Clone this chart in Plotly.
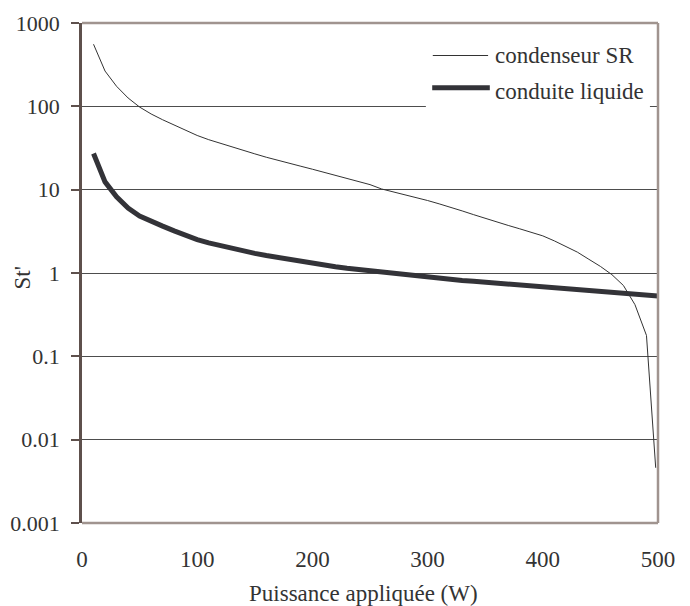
import plotly.graph_objects as go

# Data
power_sr = [10, 20, 30, 40, 50, 60, 70, 80, 90, 100, 110, 120, 130, 140, 150, 160, 170, 180, 190, 200,
            210, 220, 230, 240, 250, 260, 270, 280, 290, 300, 310, 320, 330, 340, 350, 360, 370, 380, 390, 400,
            410, 420, 430, 440, 450, 460, 470, 480, 490, 498]
condenseur_sr = [556, 265, 174, 126, 98, 81, 69, 59.6, 51.9, 44.7, 39.8, 35.9, 32.4, 29.5, 26.9, 24.5, 22.4, 20.7, 19.1, 17.6,
                 16.2, 15.0, 13.8, 12.6, 11.5, 10.2, 9.44, 8.71, 8.04, 7.41, 6.76, 6.17, 5.56, 5.01, 4.57, 4.12, 3.72, 3.39, 3.09, 2.79,
                 2.43, 2.09, 1.78, 1.46, 1.20, 0.955, 0.708, 0.417, 0.178, 0.0046]

power_cl = [10, 20, 30, 40, 50, 60, 70, 80, 90, 100, 110, 120, 130, 140, 150, 160, 170, 180, 190, 200,
            210, 220, 230, 240, 250, 260, 270, 280, 290, 300, 310, 320, 330, 340, 350, 360, 370, 380, 390, 400,
            410, 420, 430, 440, 450, 460, 470, 480, 490, 500]
conduite_liquide = [27.2, 12.4, 8.2, 6.0, 4.83, 4.15, 3.65, 3.2, 2.82, 2.52, 2.3, 2.12, 1.96, 1.83, 1.72, 1.62, 1.53, 1.45, 1.37, 1.30,
                    1.245, 1.19, 1.14, 1.10, 1.06, 1.02, 0.985, 0.95, 0.92, 0.89, 0.865, 0.84, 0.815, 0.795, 0.775, 0.755, 0.735, 0.715, 0.70, 0.68,
                    0.665, 0.65, 0.635, 0.62, 0.605, 0.59, 0.575, 0.56, 0.545, 0.53]

x_ticks = [0, 100, 200, 300, 400, 500]
y_ticks = [0.001, 0.01, 0.1, 1, 10, 100, 1000]
y_ticktext = ["0.001", "0.01", "0.1", "1", "10", "100", "1000"]

series_names = ["condenseur SR", "conduite liquide"]

FONT = "Liberation Serif"
FS = 23
TXT = "#333333"

fig = go.Figure()
fig.add_trace(go.Scatter(x=power_sr, y=condenseur_sr, mode="lines", name=series_names[0],
                         line=dict(color="#333333", width=1), showlegend=False))
fig.add_trace(go.Scatter(x=power_cl, y=conduite_liquide, mode="lines", name=series_names[1],
                         line=dict(color="#333338", width=5), showlegend=False))

fig.update_layout(
    template="none",
    width=682, height=598,
    margin=dict(l=74, r=32, t=15, b=83, autoexpand=False),
    paper_bgcolor="white", plot_bgcolor="white",
    font=dict(family=FONT, size=FS, color=TXT),
    xaxis=dict(range=[0, 500], tickvals=x_ticks, ticktext=[str(v) for v in x_ticks], automargin=False,
               showgrid=False, zeroline=False, showline=False, ticks="outside", ticklen=0,
               ticklabelstandoff=15, tickfont=dict(family=FONT, size=FS, color=TXT)),
    xaxis2=dict(range=[0, 500], overlaying="x", anchor="free", position=0.5, side="bottom", automargin=False,
                tickvals=x_ticks, showticklabels=False, showgrid=False, zeroline=False,
                showline=True, linecolor="#8f8f8f", linewidth=2,
                ticks="outside", ticklen=7, tickcolor="#8f8f8f", tickwidth=2),
    yaxis=dict(type="log", range=[-3, 3], tickvals=y_ticks, ticktext=y_ticktext, automargin=False,
               showgrid=True, gridcolor="#4d4d4d", gridwidth=1, zeroline=False,
               showline=True, linecolor="#5e504c", linewidth=2.5,
               ticks="outside", ticklen=8, tickcolor="#5e504c", tickwidth=1.5,
               ticklabelstandoff=7, tickfont=dict(family=FONT, size=22, color=TXT)),
    showlegend=False,
)

shapes = [
    # plot area border (top, right, bottom)
    dict(type="line", xref="paper", yref="paper", x0=0, x1=1, y0=1, y1=1,
         line=dict(color="#a0948f", width=2.5), layer="above"),
    dict(type="line", xref="paper", yref="paper", x0=1, x1=1, y0=0, y1=1,
         line=dict(color="#a0948f", width=2.5), layer="above"),
    dict(type="line", xref="paper", yref="paper", x0=0, x1=1, y0=0, y1=0,
         line=dict(color="#a0948f", width=2.5), layer="above"),
    # legend background
    dict(type="rect", xref="paper", yref="paper", x0=0.597, x1=0.986, y0=0.822, y1=0.99,
         fillcolor="white", line=dict(width=0), layer="above"),
    # legend samples
    dict(type="line", xref="paper", yref="paper", x0=0.609, x1=0.705, y0=0.935, y1=0.935,
         line=dict(color="#333333", width=1), layer="above"),
    dict(type="line", xref="paper", yref="paper", x0=0.608, x1=0.708, y0=0.8705, y1=0.8705,
         line=dict(color="#333338", width=5), layer="above"),
]
fig.update_layout(shapes=shapes)

annotations = [
    dict(text=series_names[0], xref="paper", yref="paper", x=0.7135, y=0.934, xanchor="left", yanchor="middle",
         showarrow=False, font=dict(family=FONT, size=FS, color=TXT)),
    dict(text=series_names[1], xref="paper", yref="paper", x=0.7135, y=0.864, xanchor="left", yanchor="middle",
         showarrow=False, font=dict(family=FONT, size=FS, color=TXT)),
    dict(text="Puissance appliquée (W)", xref="paper", yref="paper", x=0.488, y=-0.14,
         xanchor="center", yanchor="middle", showarrow=False, font=dict(family=FONT, size=FS, color=TXT)),
    dict(text="St'", xref="paper", yref="paper", x=-0.105, y=0.49, textangle=-90,
         xanchor="center", yanchor="middle", showarrow=False, font=dict(family=FONT, size=FS, color=TXT)),
]
fig.update_layout(annotations=annotations)

fig.write_html("out.html")
